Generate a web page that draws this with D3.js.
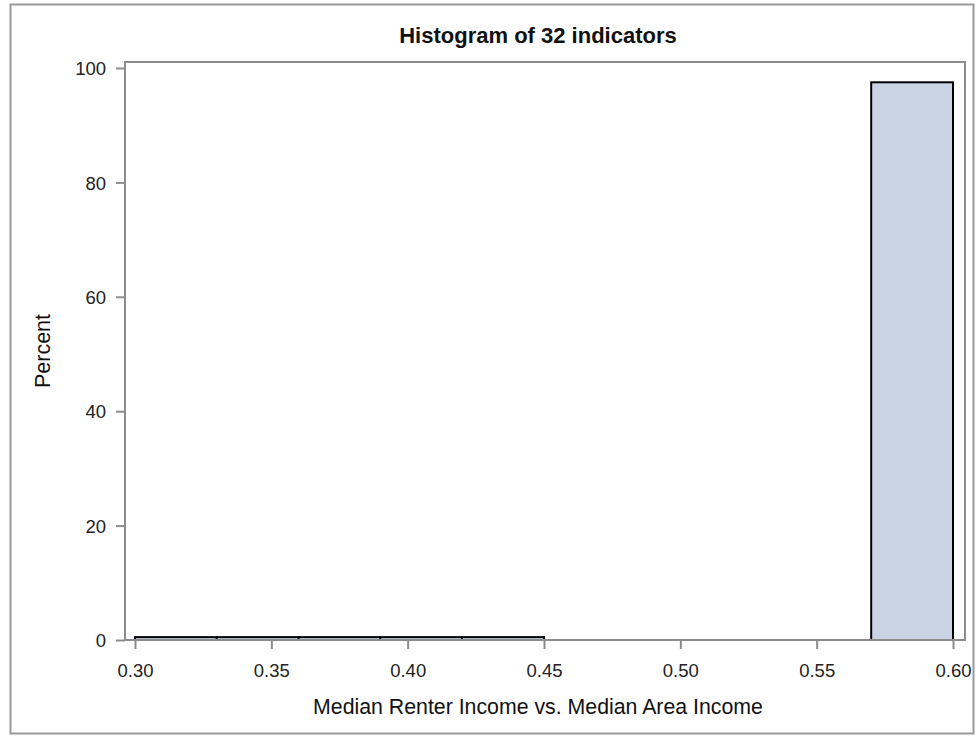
<!DOCTYPE html>
<html><head><meta charset="utf-8">
<script src="https://cdn.jsdelivr.net/npm/d3@7"></script>
<style>body{margin:0;background:#fff}svg{display:block;font-family:"Liberation Sans",Arial,sans-serif}</style>
</head><body>
<script>
const binStarts = [0.30,0.33,0.36,0.39,0.42,0.45,0.48,0.51,0.54,0.57];
const binWidth = 0.03;
const percents = [0.5,0.5,0.5,0.5,0.5,0,0,0,0,97.5];
const xTicks = [0.30,0.35,0.40,0.45,0.50,0.55,0.60];
const yTicks = [0,20,40,60,80,100];
const title = "Histogram of 32 indicators";
const xLabel = "Median Renter Income vs. Median Area Income";
const yLabel = "Percent";

(function(){
const W = 976, H = 736;
const svg = d3.select("body").append("svg").attr("width", W).attr("height", H);
svg.append("rect").attr("x",10.5).attr("y",4.5).attr("width",963).attr("height",729)
  .attr("fill","#fff").attr("stroke","#9a9a9a").attr("stroke-width",2);

const x = d3.scaleLinear().domain([0.30,0.60]).range([135,953]);
const y = d3.scaleLinear().domain([0,100]).range([640,68]);
const pL = 125, pR = 965, pT = 62, pB = 640;

const bins = binStarts.map((s,i)=>({x0:s,x1:s+binWidth,p:percents[i]})).filter(d=>d.p>0);
svg.append("g").selectAll("rect").data(bins).join("rect")
  .attr("x",d=>x(d.x0)).attr("y",d=>y(d.p))
  .attr("width",d=>x(d.x1)-x(d.x0)).attr("height",d=>y(0)-y(d.p))
  .attr("fill","#cad4e4").attr("stroke","#000").attr("stroke-width",2);

svg.append("rect").attr("x",pL).attr("y",pT).attr("width",pR-pL).attr("height",pB-pT)
  .attr("fill","none").attr("stroke","#8c8c8c").attr("stroke-width",2);

const xAxis = svg.append("g").attr("transform",`translate(0,${pB})`)
  .call(d3.axisBottom(x).tickValues(xTicks).tickFormat(d3.format(".2f")).tickSize(9).tickSizeOuter(0));
const yAxis = svg.append("g").attr("transform",`translate(${pL},0)`)
  .call(d3.axisLeft(y).tickValues(yTicks).tickSize(9).tickSizeOuter(0));
[xAxis,yAxis].forEach(a=>{
  a.select(".domain").remove();
  a.selectAll(".tick line").attr("stroke","#8c8c8c").attr("stroke-width",2);
  a.selectAll(".tick text").attr("fill","#222").style("font-size","18.5px").style("font-family","Liberation Sans, Arial, sans-serif");
});
xAxis.selectAll(".tick text").attr("dy",null).attr("y",37);
yAxis.selectAll(".tick text").attr("x",-19).attr("dy","0.36em");

svg.append("text").attr("x",538).attr("y",43).attr("text-anchor","middle")
  .style("font-size","22px").style("font-weight","bold").attr("fill","#111").text(title);
svg.append("text").attr("x",538).attr("y",714).attr("text-anchor","middle")
  .style("font-size","21.3px").attr("fill","#111").text(xLabel);
svg.append("text").attr("transform","translate(50,351) rotate(-90)").attr("text-anchor","middle")
  .style("font-size","21.5px").attr("fill","#111").text(yLabel);
})();
</script>
</body></html>
